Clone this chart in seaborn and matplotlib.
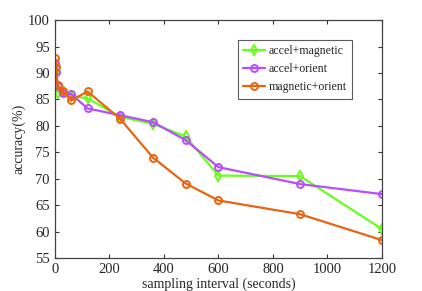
import numpy as np
import pandas as pd
import matplotlib
matplotlib.use("Agg")
import matplotlib.pyplot as plt
import seaborn as sns

# sampling intervals (seconds)
intervals = [1, 5, 10, 30, 60, 120, 240, 360, 480, 600, 900, 1200]

# accuracy (%) per sensor combination
accel_magnetic = [91.0, 90.0, 86.3, 86.5, 85.7, 85.2, 81.7, 80.4, 78.0, 70.6, 70.5, 60.5]
accel_orient = [91.8, 90.2, 87.5, 86.2, 86.0, 83.3, 82.0, 80.7, 77.3, 72.2, 69.0, 67.1]
magnetic_orient = [92.8, 91.2, 87.8, 86.5, 84.8, 86.5, 81.3, 74.0, 69.1, 65.9, 63.3, 58.4]

series_names = ["accel+magnetic", "accel+orient", "magnetic+orient"]
colors = ["#66ff1a", "#b84cff", "#e8650f"]
markers = ["d", "o", "o"]

df = pd.concat([
    pd.DataFrame({"interval": intervals, "accuracy": vals, "combo": name})
    for name, vals in zip(series_names, [accel_magnetic, accel_orient, magnetic_orient])
])

sns.set_style("ticks")
plt.rcParams["font.family"] = ["Liberation Serif", "DejaVu Serif"]

fig = plt.figure(figsize=(4.22, 2.91), dpi=100)
ax = fig.add_axes([0.130, 0.113, 0.775, 0.818])

for name, c, m in zip(series_names, colors, markers):
    sub = df[df["combo"] == name]
    sns.lineplot(data=sub, x="interval", y="accuracy", ax=ax, color=c, lw=1.6,
                 marker=m, markersize=5, markerfacecolor="none",
                 markeredgecolor=c, markeredgewidth=1.4, label=name)

ax.set_xlim(0, 1200)
ax.set_ylim(55, 100)
ax.set_xticks(np.arange(0, 1201, 200))
ax.set_yticks(np.arange(55, 101, 5))
ax.tick_params(direction="in", labelsize=10.5, length=3, top=True, right=True,
               color="#333333")
for s in ax.spines.values():
    s.set_color("#444444")
    s.set_linewidth(0.9)
ax.set_xlabel("sampling interval (seconds)", fontsize=10, labelpad=1)
ax.set_ylabel("accuracy(%)", fontsize=10, labelpad=2)

leg = ax.legend(loc="upper right", bbox_to_anchor=(0.908, 0.916), borderaxespad=0,
                fontsize=8.6, frameon=True, fancybox=False, handlelength=1.8,
                borderpad=0.45, labelspacing=0.5, handletextpad=0.3)
leg.get_frame().set_edgecolor("#333333")
leg.get_frame().set_linewidth(0.8)

fig.savefig("out.png", dpi=100)
